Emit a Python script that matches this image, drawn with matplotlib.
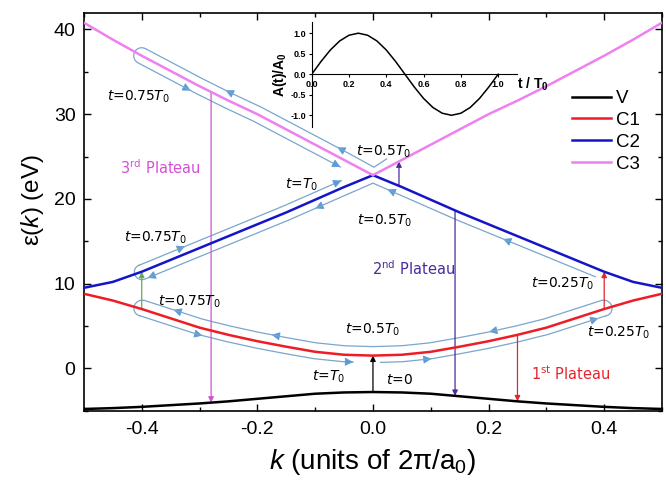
import numpy as np
import matplotlib.pyplot as plt
from matplotlib.ticker import MultipleLocator

plt.rcParams['font.family'] = ['Liberation Sans', 'DejaVu Sans']
plt.rcParams['mathtext.fontset'] = 'custom'
plt.rcParams['mathtext.rm'] = 'Liberation Sans'
plt.rcParams['mathtext.it'] = 'Liberation Sans:italic'
plt.rcParams['mathtext.bf'] = 'Liberation Sans:bold'

# bands: k in units of 2pi/a0, energies in eV
k = np.array([-0.50, -0.45, -0.40, -0.35, -0.30, -0.25, -0.20, -0.15, -0.10, -0.05, 0.00,
              0.05, 0.10, 0.15, 0.20, 0.25, 0.30, 0.35, 0.40, 0.45, 0.50])
V = [-4.8, -4.7, -4.55, -4.35, -4.15, -3.9, -3.6, -3.3, -3.0, -2.85, -2.8,
     -2.85, -3.0, -3.3, -3.6, -3.9, -4.15, -4.35, -4.55, -4.7, -4.8]
C1 = [8.8, 8.0, 7.0, 5.9, 4.8, 3.95, 3.2, 2.55, 1.95, 1.6, 1.5,
      1.6, 1.95, 2.55, 3.2, 3.95, 4.8, 5.9, 7.0, 8.0, 8.8]
C2 = [9.5, 10.2, 11.4, 12.8, 14.2, 15.6, 17.0, 18.4, 19.9, 21.4, 22.8,
      21.4, 19.9, 18.4, 17.0, 15.6, 14.2, 12.8, 11.4, 10.2, 9.5]
C3 = [40.8, 38.8, 36.9, 35.1, 33.3, 31.6, 30.0, 28.2, 26.4, 24.6, 22.8,
      24.6, 26.4, 28.2, 30.0, 31.6, 33.3, 35.1, 36.9, 38.8, 40.8]
band_names = ['V', 'C1', 'C2', 'C3']
band_colors = ['black', '#ee1c25', '#1414c8', '#ef80ef']

# inset: vector potential over one cycle
t_frac = [0.0, 0.05, 0.10, 0.15, 0.20, 0.25, 0.30, 0.35, 0.40, 0.45, 0.50,
          0.55, 0.60, 0.65, 0.70, 0.75, 0.80, 0.85, 0.90, 0.95, 1.0]
A_frac = [0.0, 0.31, 0.59, 0.81, 0.95, 1.0, 0.95, 0.81, 0.59, 0.31, 0.0,
          -0.31, -0.59, -0.81, -0.95, -1.0, -0.95, -0.81, -0.59, -0.31, 0.0]

# interband transitions
trans_k = [0.0, 0.25, 0.40, -0.40, 0.142, 0.045, -0.28]
trans_from = ['V', 'C1', 'C1', 'C1', 'C2', 'C2', 'C3']
trans_to = ['C1', 'V', 'C2', 'C2', 'V', 'C3', 'V']
trans_color = ['black', '#e3262d', '#e3262d', '#6aa84f', '#4b2c9e', '#4b2c9e', '#cc55cc']

bands = dict(zip(band_names, [V, C1, C2, C3]))
path_color = '#7aa6cc'
head_color = '#5b9bd5'

fig = plt.figure(figsize=(6.66, 4.82), dpi=100)
ax = fig.add_axes([0.126, 0.148, 0.868, 0.826])
ax.set_xlim(-0.5, 0.5)
ax.set_ylim(-5, 42)

for name, col in zip(band_names, band_colors):
    ax.plot(k, bands[name], color=col, lw=1.8, label=name, zorder=3)

for kt, b0, b1, col in zip(trans_k, trans_from, trans_to, trans_color):
    e0 = np.interp(kt, k, bands[b0])
    e1 = np.interp(kt, k, bands[b1])
    ax.annotate('', xy=(kt, e1), xytext=(kt, e0), zorder=2.5,
                arrowprops=dict(arrowstyle='-|>', color=col, lw=0.9,
                                mutation_scale=8, shrinkA=0, shrinkB=0))

inv = ax.transData.inverted()


def band_px(name, kk):
    e = np.interp(kk, k, bands[name])
    return ax.transData.transform(np.column_stack([kk, e]))


def seg_px(name, k0, k1, d):
    # band offset by d pixels (positive = above), ordered from k0 to k1
    lo, hi = sorted((k0, k1))
    kk = np.concatenate([[lo], k[(k > lo + 1e-6) & (k < hi - 1e-6)], [hi]])
    p = band_px(name, kk)
    tg = np.gradient(p, axis=0)
    tg /= np.hypot(tg[:, 0], tg[:, 1])[:, None]
    p = p + d * np.column_stack([-tg[:, 1], tg[:, 0]])
    return p if k0 < k1 else p[::-1]


def turn_px(name, ke, d0, d1, side):
    c, a, b = band_px(name, np.array([ke, ke - 0.01, ke + 0.01]))
    tg = (b - a) / np.hypot(*(b - a))
    nm = np.array([-tg[1], tg[0]])
    th = np.linspace(0, np.pi, 25)[:, None]
    r = abs(d0) + (abs(d1) - abs(d0)) * th / np.pi
    return c + r * (np.sign(d0) * np.cos(th) * nm + side * np.sin(th) * tg)


def head(p, q):
    a, b = inv.transform(np.array([p, q]))
    ax.annotate('', xy=b, xytext=a, zorder=2,
                arrowprops=dict(arrowstyle='-|>,head_length=0.55,head_width=0.28',
                                color=head_color, lw=0.6, mutation_scale=9,
                                shrinkA=0, shrinkB=0))


def heads_on(p, ks):
    for kt in ks:
        xt = ax.transData.transform((kt, 0))[0]
        for i in range(len(p) - 1):
            x0, x1 = p[i, 0], p[i + 1, 0]
            if x0 != x1 and min(x0, x1) <= xt <= max(x0, x1):
                m = p[i] + (xt - x0) / (x1 - x0) * (p[i + 1] - p[i])
                u = (p[i + 1] - p[i]) / np.hypot(*(p[i + 1] - p[i]))
                head(m - 3 * u, m + 3 * u)
                break


def draw_path(name, pieces, end_arrow):
    parts = []
    for pc in pieces:
        if pc[0] == 'seg':
            p = seg_px(name, pc[1], pc[2], pc[3])
            heads_on(p, pc[4])
        else:
            p = turn_px(name, pc[1], pc[2], pc[3], pc[4])
        parts.append(p)
    full = np.vstack(parts)
    ax.plot(*inv.transform(full).T, color=path_color, lw=0.9, zorder=2)
    if end_arrow:
        u = full[-1] - full[-2]
        u /= np.hypot(*u)
        head(full[-1] - 6 * u, full[-1])


# trajectories in C1, C2, C3
draw_path('C1', [('seg', 0.013, 0.40, -7, [0.096, 0.385]),
                 ('turn', 0.40, -7, 9, 1),
                 ('seg', 0.40, -0.40, 9, [0.206, -0.17, -0.34]),
                 ('turn', -0.40, 9, -7, -1),
                 ('seg', -0.40, -0.034, -7, [-0.30])], True)
draw_path('C2', [('seg', 0.39, -0.40, -8, [0.23, 0.03, -0.095, -0.385]),
                 ('turn', -0.40, -8, 7, -1),
                 ('seg', -0.40, -0.05, 7, [-0.33])], True)
draw_path('C3', [('seg', 0.03, -0.40, 8, [-0.057, -0.25]),
                 ('turn', -0.40, 8, -8, -1),
                 ('seg', -0.40, -0.05, -8, [-0.32])], True)

# time labels
t_labels = [(r'$t$=0.75$T_0$', -0.46, 32.0), (r'$t$=0.5$T_0$', -0.029, 25.6),
            (r'$t$=$T_0$', -0.152, 21.7), (r'$t$=0.5$T_0$', -0.028, 17.4),
            (r'$t$=0.75$T_0$', -0.43, 15.4), (r'$t$=0.75$T_0$', -0.372, 7.8),
            (r'$t$=0.25$T_0$', 0.273, 10.0), (r'$t$=0.5$T_0$', -0.048, 4.5),
            (r'$t$=0.25$T_0$', 0.37, 4.2), (r'$t$=$T_0$', -0.106, -1.0),
            (r'$t$=0', 0.022, -1.4)]
for s, x, y in t_labels:
    ax.text(x, y, s, fontsize=10, family='DejaVu Sans', math_fontfamily='dejavusans',
            ha='left', va='center', zorder=4)

plateaus = [(r'3$^{\rm rd}$ Plateau', -0.437, 23.7, '#d64fd6'),
            (r'2$^{\rm nd}$ Plateau', -0.002, 11.8, '#4b2c9e'),
            (r'1$^{\rm st}$ Plateau', 0.274, -0.6, '#e3262d')]
for s, x, y, col in plateaus:
    ax.text(x, y, s, fontsize=10.5, color=col, family='DejaVu Sans',
            math_fontfamily='dejavusans', ha='left', va='center', zorder=4)

ax.xaxis.set_minor_locator(MultipleLocator(0.1))
ax.yaxis.set_major_locator(MultipleLocator(10))
ax.yaxis.set_minor_locator(MultipleLocator(5))
ax.set_xticks([-0.4, -0.2, 0.0, 0.2, 0.4])
ax.set_xticklabels(['-0.4', '-0.2', '0.0', '0.2', '0.4'])
ax.tick_params(which='both', direction='in', top=True, right=True, labelsize=14, width=1)
ax.tick_params(which='major', length=5)
ax.tick_params(which='minor', length=3)
ax.tick_params(axis='x', pad=7.5)
ax.tick_params(axis='y', pad=6)
for sp in ax.spines.values():
    sp.set_linewidth(1.2)

fig.text(373 / 666, 1 - 462 / 482, r'$k$ (units of 2π/a$_0$)', fontsize=20,
         ha='center', va='center')
fig.text(33 / 666, 1 - 200 / 482, r'ε($k$) (eV)', fontsize=17.5, rotation=90,
         ha='center', va='center')

ax.legend(loc='upper left', bbox_to_anchor=(572 / 666, 1 - 90 / 482),
          bbox_transform=fig.transFigure, frameon=False, borderpad=0,
          borderaxespad=0, handlelength=2.1, handletextpad=0.25,
          labelspacing=0.25, fontsize=13.5)

# inset
ins = fig.add_axes([0.468, 0.737, 0.308, 0.218], facecolor='none')
ins.plot(t_frac, A_frac, color='black', lw=1.1)
ins.set_xlim(0, 1.1)
ins.set_ylim(-1.28, 1.28)
ins.spines['top'].set_visible(False)
ins.spines['right'].set_visible(False)
ins.spines['bottom'].set_position(('data', 0))
ins.set_xticks([0.0, 0.2, 0.4, 0.6, 0.8, 1.0])
ins.set_xticklabels(['0.0', '0.2', '0.4', '0.6', '0.8', '1.0'])
ins.set_yticks([-1.0, -0.5, 0.0, 0.5, 1.0])
ins.set_yticklabels(['-1.0', '-0.5', '0.0', '0.5', '1.0'])
ins.tick_params(labelsize=6.5, width=0.8, length=2.5, direction='out', pad=1.5)
for lab in ins.get_xticklabels() + ins.get_yticklabels():
    lab.set_fontweight('bold')
ins.set_ylabel(r'A(t)/A$_\mathbf{0}$', fontsize=10, fontweight='bold')
ins.yaxis.set_label_coords(-0.11, 0.5)
ins.text(1.0, 0.40, r't / T$_\mathbf{0}$', transform=ins.transAxes, fontsize=10,
         fontweight='bold', va='center', ha='left')

fig.savefig('out.png', dpi=100)
